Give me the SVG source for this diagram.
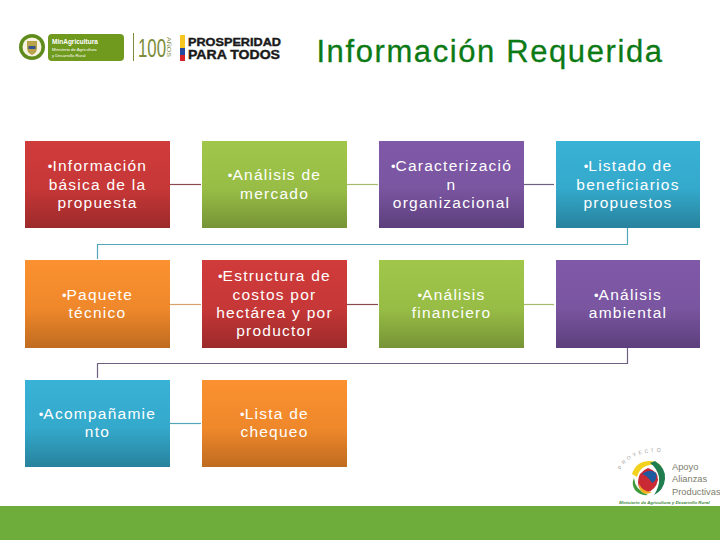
<svg xmlns="http://www.w3.org/2000/svg" width="720" height="540" viewBox="0 0 720 540">
<defs>
<linearGradient id="red" x1="0" y1="0" x2="0" y2="1"><stop offset="0" stop-color="#d03b3b"/><stop offset="0.55" stop-color="#c63737"/><stop offset="1" stop-color="#9c2a2a"/></linearGradient>
<linearGradient id="green" x1="0" y1="0" x2="0" y2="1"><stop offset="0" stop-color="#a0c64a"/><stop offset="0.55" stop-color="#98bd46"/><stop offset="1" stop-color="#769436"/></linearGradient>
<linearGradient id="purple" x1="0" y1="0" x2="0" y2="1"><stop offset="0" stop-color="#7f59a8"/><stop offset="0.55" stop-color="#7a55a0"/><stop offset="1" stop-color="#5c3f7c"/></linearGradient>
<linearGradient id="blue" x1="0" y1="0" x2="0" y2="1"><stop offset="0" stop-color="#38b2d6"/><stop offset="0.55" stop-color="#34a9cb"/><stop offset="1" stop-color="#27829d"/></linearGradient>
<linearGradient id="orange" x1="0" y1="0" x2="0" y2="1"><stop offset="0" stop-color="#fb9130"/><stop offset="0.55" stop-color="#ef882b"/><stop offset="1" stop-color="#bf6b20"/></linearGradient>
<path id="arc" d="M621 470Q628 452 660 452"/>
</defs>
<style>
.t{font-family:"Liberation Sans",Arial,sans-serif;font-size:15.5px;fill:#fff;text-anchor:middle;letter-spacing:1.25px}
.b{font-size:13px;letter-spacing:0}
.c{fill:none;stroke-width:1.2}
.title{font-family:"Liberation Sans",Arial,sans-serif;font-size:31px;fill:#0c7a14;stroke:#0c7a14;stroke-width:.3;text-anchor:middle;letter-spacing:1.6px}
.lg{font-family:"Liberation Sans",Arial,sans-serif}
</style>
<rect width="720" height="540" fill="#fff"/>
<rect x="0" y="506" width="720" height="34" fill="#6eac3c"/>
<text class="title" x="490" y="62">Información Requerida</text>

<g id="logo-min">
<circle cx="32" cy="47" r="13" fill="#5f8a1c"/><circle cx="32" cy="47" r="9.500" fill="#f6f3e0"/><path d="M27 41h10v7q0 5-5 7q-5-2-5-7z" fill="#b8a24a"/><rect x="28.500" y="46" width="7" height="3" fill="#33518a"/>
<rect x="48" y="34" width="76" height="27" rx="4" fill="#6f9a1e"/>
<text class="lg" x="52" y="44" font-size="6.500" font-weight="700" fill="#fff">MinAgricultura</text>
<text class="lg" x="52" y="50.500" font-size="4.200" fill="#fff">Ministerio de Agricultura</text>
<text class="lg" x="52" y="56.500" font-size="4.200" fill="#fff">y Desarrollo Rural</text>
<rect x="133" y="33" width="1" height="28" fill="#7c8c3a"/>
<text class="lg" x="138" y="57" font-size="26" fill="#7c8c3a" textLength="28" lengthAdjust="spacingAndGlyphs">100</text>
<text class="lg" font-size="6" fill="#7c8c3a" transform="translate(167,37) rotate(90)" textLength="20" lengthAdjust="spacingAndGlyphs">AÑOS</text>
<rect x="180" y="35" width="5" height="13" fill="#f7c520"/><rect x="180" y="48" width="5" height="7" fill="#2447a0"/><rect x="180" y="55" width="5" height="6" fill="#d8202a"/>
<text class="lg" x="188" y="45.500" font-size="11.500" font-weight="700" fill="#1a1a1a" stroke="#1a1a1a" stroke-width=".4" textLength="93" lengthAdjust="spacingAndGlyphs">PROSPERIDAD</text>
<text class="lg" x="188" y="58.500" font-size="12.500" font-weight="700" fill="#1a1a1a" stroke="#1a1a1a" stroke-width=".4" textLength="92" lengthAdjust="spacingAndGlyphs">PARA TODOS</text>
</g>

<g id="logo-apoyo">
<path d="M632 474Q636 461 650 461Q658 461 662 467Q654 463 646 466Q639 469 637 477Z" fill="#f2d21e"/>
<path d="M655 461Q666 468 665 479Q664 490 654 495Q660 486 659 477Q657 468 650 463Z" fill="#1f7d50"/>
<path d="M634 478Q635 490 648 495Q640 496 635 490Q631 484 634 478Z" fill="#3f9a3a"/>
<path d="M648 468Q658 471 658 480Q656 490 646 493Q638 490 638 482Q638 472 648 468Z" fill="#c92a34"/>
<path d="M642 474Q650 468 656 473Q658 480 652 483Q648 476 642 474Z" fill="#1d5aa0"/>
<path d="M639 484Q643 492 652 492Q648 495 643 493Q639 490 639 484Z" fill="#f2b01e"/>
<text class="lg" font-size="5" fill="#9a9a9a" letter-spacing="2.600"><textPath href="#arc">PROYECTO</textPath></text>
<text class="lg" x="672" y="470" font-size="9.300" fill="#7c7c6c">Apoyo</text>
<text class="lg" x="672" y="482" font-size="9.300" fill="#7c7c6c">Alianzas</text>
<text class="lg" x="672" y="494.500" font-size="9.300" fill="#7c7c6c">Productivas</text>
<text class="lg" x="619" y="503.500" font-size="4.400" font-style="italic" font-weight="700" fill="#3c8a3c">Ministerio de Agricultura y Desarrollo Rural</text>
</g>

<g id="connectors">
<path class="c" d="M170 184.500H201" stroke="#8a4a50"/>
<path class="c" d="M347 184.500H378" stroke="#a6bc6c"/>
<path class="c" d="M524 184.500H554" stroke="#6f5f80"/>
<path class="c" d="M627.500 228V244.500H97.500V259" stroke="#55a5ba"/>
<path class="c" d="M170 304.500H201" stroke="#d6a26c"/>
<path class="c" d="M347 304.500H378" stroke="#8a4a50"/>
<path class="c" d="M524 304.500H554" stroke="#a6bc6c"/>
<path class="c" d="M627.500 348V363.500H97.500V378" stroke="#6f5f80"/>
<path class="c" d="M170 423.500H201" stroke="#55a5ba"/>
</g>

<g id="n1"><rect x="25" y="141" width="145" height="87" fill="url(#red)"/><text class="t"><tspan x="97.500" y="171"><tspan class="b">•</tspan>Información</tspan><tspan x="97.500" y="190">básica de la</tspan><tspan x="97.500" y="208">propuesta</tspan></text></g>
<g id="n2"><rect x="202" y="141" width="145" height="87" fill="url(#green)"/><text class="t"><tspan x="274.500" y="180"><tspan class="b">•</tspan>Análisis de</tspan><tspan x="274.500" y="199">mercado</tspan></text></g>
<g id="n3"><rect x="379" y="141" width="145" height="87" fill="url(#purple)"/><text class="t"><tspan x="451.500" y="171"><tspan class="b">•</tspan>Caracterizació</tspan><tspan x="451.500" y="190">n</tspan><tspan x="451.500" y="208">organizacional</tspan></text></g>
<g id="n4"><rect x="556" y="141" width="144" height="87" fill="url(#blue)"/><text class="t"><tspan x="628" y="171"><tspan class="b">•</tspan>Listado de</tspan><tspan x="628" y="190">beneficiarios</tspan><tspan x="628" y="208">propuestos</tspan></text></g>
<g id="n5"><rect x="25" y="260" width="145" height="88" fill="url(#orange)"/><text class="t"><tspan x="97.500" y="300"><tspan class="b">•</tspan>Paquete</tspan><tspan x="97.500" y="318">técnico</tspan></text></g>
<g id="n6"><rect x="202" y="260" width="145" height="88" fill="url(#red)"/><text class="t"><tspan x="274.500" y="281"><tspan class="b">•</tspan>Estructura de</tspan><tspan x="274.500" y="300">costos por</tspan><tspan x="274.500" y="318">hectárea y por</tspan><tspan x="274.500" y="336">productor</tspan></text></g>
<g id="n7"><rect x="379" y="260" width="145" height="88" fill="url(#green)"/><text class="t"><tspan x="451.500" y="300"><tspan class="b">•</tspan>Análisis</tspan><tspan x="451.500" y="318">financiero</tspan></text></g>
<g id="n8"><rect x="556" y="260" width="144" height="88" fill="url(#purple)"/><text class="t"><tspan x="628" y="300"><tspan class="b">•</tspan>Análisis</tspan><tspan x="628" y="318">ambiental</tspan></text></g>
<g id="n9"><rect x="25" y="380" width="145" height="87" fill="url(#blue)"/><text class="t"><tspan x="97.500" y="419"><tspan class="b">•</tspan>Acompañamie</tspan><tspan x="97.500" y="437">nto</tspan></text></g>
<g id="n10"><rect x="202" y="380" width="145" height="87" fill="url(#orange)"/><text class="t"><tspan x="274.500" y="419"><tspan class="b">•</tspan>Lista de</tspan><tspan x="274.500" y="437">chequeo</tspan></text></g>
</svg>
